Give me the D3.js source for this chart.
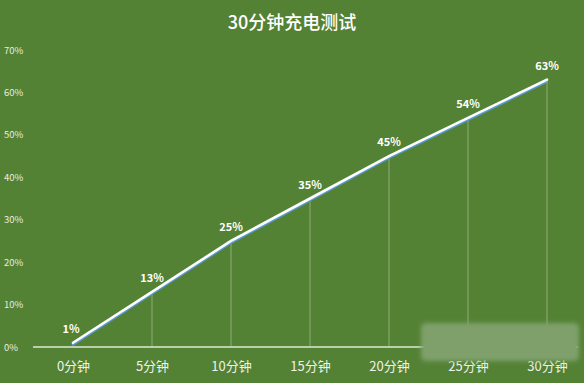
<!DOCTYPE html>
<html><head><meta charset="utf-8">
<script src="https://cdn.jsdelivr.net/npm/d3@7"></script>
<style>html,body{margin:0;padding:0;background:#548235;}svg{display:block;}</style>
</head><body>
<script>
const categories = ["0分钟","5分钟","10分钟","15分钟","20分钟","25分钟","30分钟"];
const values = [1, 13, 25, 35, 45, 54, 63];
const yTicks = [0,10,20,30,40,50,60,70];
const title = "30分钟充电测试";

const W = 584, H = 383;
const svg = d3.select("body").append("svg").attr("width", W).attr("height", H);
svg.append("rect").attr("width", W).attr("height", H).attr("fill", "#548235");

const font = "'Noto Sans CJK SC','Noto Sans',sans-serif";
const x = d3.scalePoint().domain(categories).range([73, 547]);
const y = d3.scaleLinear().domain([0, 70]).range([347, 50]);

svg.append("text").attr("x", 292).attr("y", 29).attr("text-anchor", "middle")
  .attr("fill", "#ffffff").attr("font-family", font).attr("font-size", 18).attr("font-weight", 500)
  .text(title);

// y axis labels
const yAxis = d3.axisLeft(y).tickValues(yTicks).tickFormat(d => d + "%").tickSize(0);
const yg = svg.append("g").attr("transform", "translate(24,0)").call(yAxis);
yg.select(".domain").remove();
yg.selectAll("text").attr("fill", "#e6ecdf").attr("font-family", font).attr("font-size", 9.5)
  .attr("text-anchor", "start").attr("x", -20).attr("dy", "0.32em");

// x axis
const xAxis = d3.axisBottom(x).tickSize(0).tickPadding(15);
const xg = svg.append("g").attr("transform", `translate(0,${y(0)})`).call(xAxis);
xg.select(".domain").remove();
xg.selectAll("text").attr("fill", "#eef2ea").attr("font-family", font).attr("font-size", 13);
svg.append("line").attr("x1", 33).attr("x2", 578).attr("y1", y(0)).attr("y2", y(0))
  .attr("stroke", "#dfe8d6").attr("stroke-width", 1.3);

const data = categories.map((c, i) => ({c, v: values[i]}));

// drop lines
svg.selectAll(".drop").data(data.slice(1)).enter().append("line")
  .attr("x1", d => x(d.c)).attr("x2", d => x(d.c))
  .attr("y1", d => y(d.v)).attr("y2", y(0))
  .attr("stroke", "#c9d8bd").attr("stroke-width", 0.7).attr("opacity", 0.7);

const line = d3.line().x(d => x(d.c)).y(d => y(d.v));
svg.append("path").datum(data).attr("d", line).attr("transform", "translate(0,1.6)")
  .attr("fill", "none").attr("stroke", "#5b9bd5").attr("stroke-width", 2.6).attr("stroke-linecap", "round");
svg.append("path").datum(data).attr("d", line)
  .attr("fill", "none").attr("stroke", "#ffffff").attr("stroke-width", 2.6).attr("stroke-linecap", "round");

svg.selectAll(".lbl").data(data).enter().append("text")
  .attr("x", d => x(d.c) - (d.v === 1 ? 2 : 0)).attr("y", d => y(d.v) - 10)
  .attr("text-anchor", "middle").attr("fill", "#ffffff").attr("font-family", font)
  .attr("font-size", 11).attr("font-weight", "bold").text(d => d.v + "%");

// blurred watermark patch
const defs = svg.append("defs");
defs.append("filter").attr("id", "blur").attr("x", "-20%").attr("y", "-40%").attr("width", "140%").attr("height", "180%")
  .append("feGaussianBlur").attr("stdDeviation", 2);
svg.append("rect").attr("x", 421).attr("y", 323).attr("width", 158).attr("height", 38).attr("rx", 5)
  .attr("fill", "#7fa06a").attr("filter", "url(#blur)");
</script>
</body></html>
